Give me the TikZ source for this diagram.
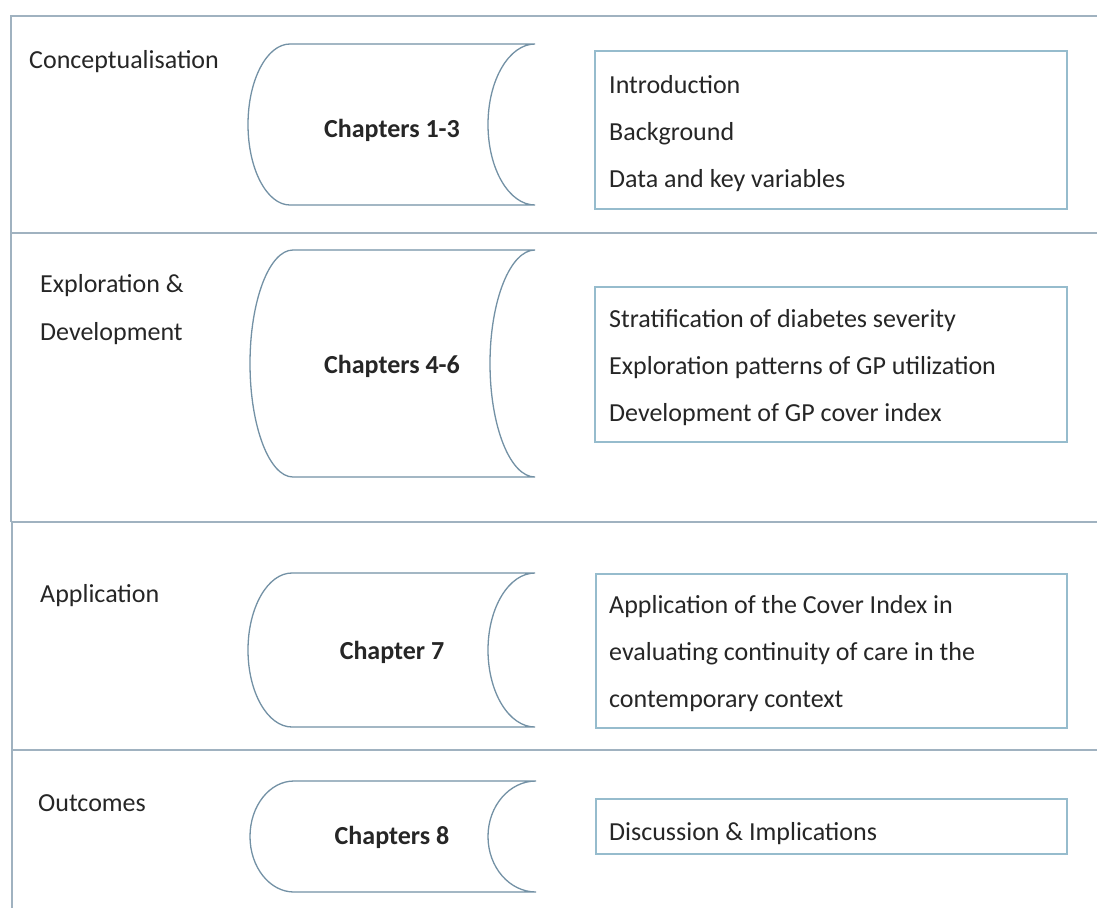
\documentclass[tikz,border=0pt]{standalone}
\usepackage{fontspec}
\setmainfont{Carlito}
\definecolor{framec}{RGB}{160,178,192}
\definecolor{shapec}{RGB}{115,145,165}
\definecolor{boxc}{RGB}{150,188,205}
\definecolor{txt}{RGB}{38,38,38}
\newcommand\chapshape[7]{%
  \pgfmathsetmacro\ym{(#2+#3)/2}%
  \pgfmathsetmacro\ry{(#3-#2)/2}%
  \pgfmathsetmacro\rl{#5-#4}%
  \pgfmathsetmacro\rr{#6-#7}%
  \draw[storeshape] (#5,#2) -- (#6,#2)
    arc[start angle=270,end angle=90,x radius=\rr,y radius=\ry]
    -- (#5,#3)
    arc[start angle=90,end angle=270,x radius=\rl,y radius=\ry] -- cycle;
}
\begin{document}
\begin{tikzpicture}[x=1pt,y=-1pt,
  frameline/.style={draw=framec, line width=2pt},
  storeshape/.style={draw=shapec, line width=1.3pt},
  listbox/.style={draw=boxc, line width=1.6pt, anchor=north west, inner sep=0pt},
  lbl/.style={font=\fontsize{26}{48}\selectfont, text=txt, inner sep=0pt, anchor=base west, align=left},
  chap/.style={font=\bfseries\fontsize{26}{30}\selectfont, text=txt, inner sep=0pt, anchor=base},
  items/.style={font=\fontsize{26}{47}\selectfont, text=txt, inner sep=0pt, anchor=base west, align=left}]
\useasboundingbox (0,0) rectangle (1097,908);
\fill[white] (0,0) rectangle (1097,908);

% frame of the four stages
\draw[frameline] (1097,16) -- (11,16) -- (11,522);
\draw[frameline] (12,522) -- (12,908);
\draw[frameline] (11,233) -- (1097,233);
\draw[frameline] (11,522) -- (1097,522);
\draw[frameline] (12,750) -- (1097,750);

% stage labels (base anchor = baseline of the last line)
\node[lbl] (s1) at (29,68) {Conceptualisation};
\node[lbl] (s2) at (40,340) {Exploration \&\\Development};
\node[lbl] (s3) at (40,602) {Application};
\node[lbl] (s4) at (38,811) {Outcomes};

% chapter shapes
\chapshape{c1}{44}{205}{248}{290}{535}{488}
\chapshape{c2}{250}{477}{250}{293}{535}{490}
\chapshape{c3}{573}{727}{248}{292}{535}{488}
\chapshape{c4}{781}{892}{250}{294}{536}{488}
\node[chap] (c1) at (392,137) {Chapters 1-3};
\node[chap] (c2) at (392,373) {Chapters 4-6};
\node[chap] (c3) at (392,659) {Chapter 7};
\node[chap] (c4) at (392,844) {Chapters 8};

% content boxes
\node[listbox, minimum width=472pt, minimum height=158pt] (b1) at (594,50) {};
\node[listbox, minimum width=472pt, minimum height=155pt] (b2) at (594,286) {};
\node[listbox, minimum width=471pt, minimum height=154pt] (b3) at (595,573) {};
\node[listbox, minimum width=471pt, minimum height=55pt] (b4) at (595,798) {};

\node[items] (t1) at (609,187) {Introduction\\Background\\Data and key variables};
\node[items] (t2) at (609,421) {Stratification of diabetes severity\\Exploration patterns of GP utilization\\Development of GP cover index};
\node[items] (t3) at (609,707) {Application of the Cover Index in\\evaluating continuity of care in the\\contemporary context};
\node[items] (t4) at (609,840) {Discussion \& Implications};
\end{tikzpicture}
\end{document}
